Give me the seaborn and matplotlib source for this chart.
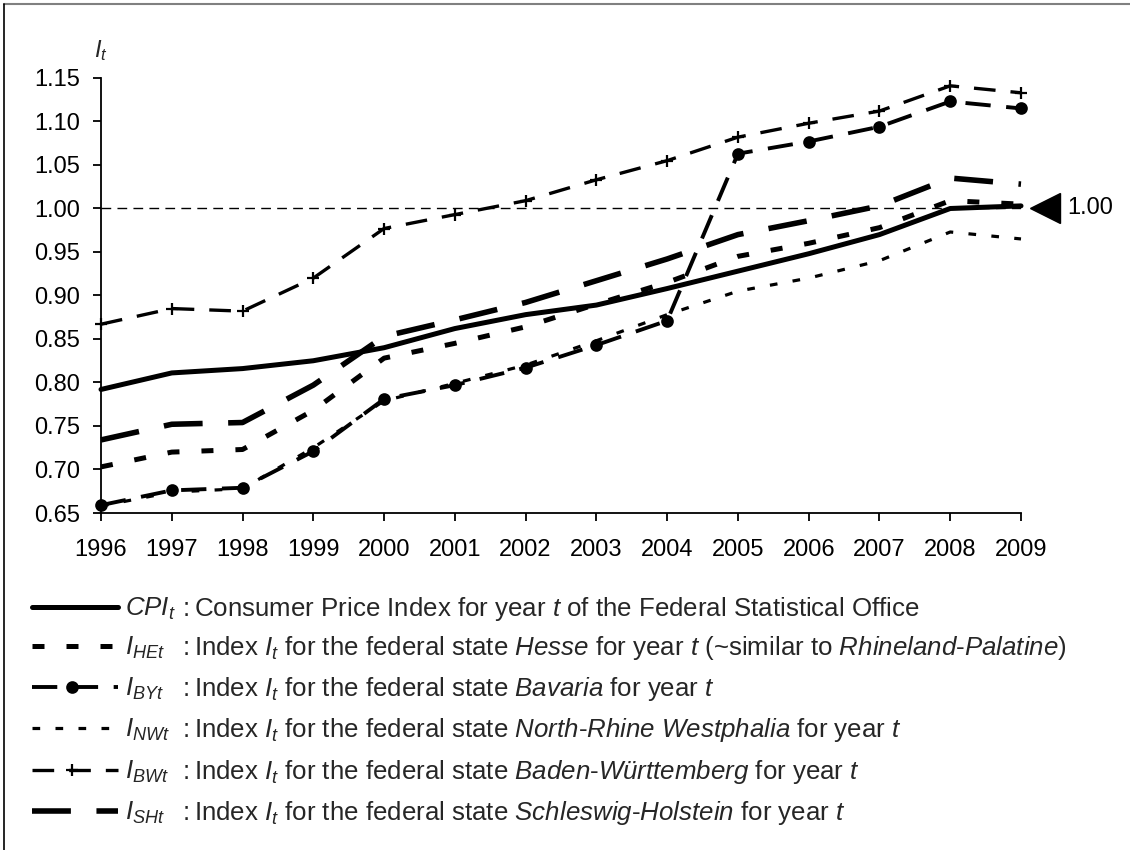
import matplotlib as mpl
import matplotlib.pyplot as plt
import seaborn as sns
import numpy as np
import pandas as pd
from matplotlib.lines import Line2D
from matplotlib.transforms import offset_copy

# Data
years = list(range(1996, 2010))
cpi = [0.792, 0.811, 0.816, 0.825, 0.840, 0.862, 0.878, 0.889, 0.908, 0.928, 0.948, 0.970, 1.000, 1.003]
hesse = [0.703, 0.720, 0.723, 0.768, 0.828, 0.845, 0.864, 0.890, 0.915, 0.945, 0.960, 0.978, 1.009, 1.005]
bavaria = [0.659, 0.676, 0.679, 0.721, 0.781, 0.797, 0.817, 0.843, 0.871, 1.063, 1.077, 1.094, 1.123, 1.115]
nrw = [0.658, 0.674, 0.678, 0.725, 0.779, 0.799, 0.820, 0.848, 0.878, 0.905, 0.920, 0.940, 0.973, 0.965]
bawue = [0.867, 0.885, 0.882, 0.920, 0.977, 0.993, 1.009, 1.033, 1.055, 1.082, 1.098, 1.112, 1.141, 1.133]
schleswig = [0.734, 0.752, 0.754, 0.797, 0.853, 0.872, 0.892, 0.917, 0.942, 0.970, 0.986, 1.003, 1.035, 1.028]
base = 1.00
yticks = [0.65, 0.70, 0.75, 0.80, 0.85, 0.90, 0.95, 1.00, 1.05, 1.10, 1.15]

series = ['CPI', 'HE', 'BY', 'NW', 'BW', 'SH']
values = [cpi, hesse, bavaria, nrw, bawue, schleswig]
short = [r'$\mathit{CPI}_t$', r'$I_{HEt}$', r'$I_{BYt}$', r'$I_{NWt}$', r'$I_{BWt}$', r'$I_{SHt}$']
descs = [
    r'Consumer Price Index for year $t$ of the Federal Statistical Office',
    r'Index $I_t$ for the federal state $\mathit{Hesse}$ for year $t$ (~similar to $\mathit{Rhineland}$-$\mathit{Palatine}$)',
    r'Index $I_t$ for the federal state $\mathit{Bavaria}$ for year $t$',
    r'Index $I_t$ for the federal state $\mathit{North}$-$\mathit{Rhine\ Westphalia}$ for year $t$',
    r'Index $I_t$ for the federal state $\mathit{Baden}$-$\mathit{Württemberg}$ for year $t$',
    r'Index $I_t$ for the federal state $\mathit{Schleswig}$-$\mathit{Holstein}$ for year $t$',
]

# line styles (lw, dash pattern, marker, marker size)
styles = {
    'CPI': dict(lw=3.6, ls='-', marker=None, ms=0),
    'HE': dict(lw=3.6, ls=(0, (2.4, 4.4)), marker=None, ms=0),
    'BY': dict(lw=2.8, ls=(0, (6.5, 4.0)), marker='o', ms=7.5),
    'NW': dict(lw=2.3, ls=(0, (2.4, 4.8)), marker=None, ms=0),
    'BW': dict(lw=2.4, ls=(0, (6.5, 4.5)), marker='+', ms=8),
    'SH': dict(lw=4.0, ls=(0, (7.0, 4.6)), marker=None, ms=0),
}

sns.set_theme(style='ticks')
plt.rcParams['font.family'] = ['Liberation Sans', 'DejaVu Sans']
plt.rcParams['mathtext.fontset'] = 'custom'
plt.rcParams['mathtext.rm'] = 'Liberation Sans'
plt.rcParams['mathtext.it'] = 'Liberation Sans:italic'
plt.rcParams['mathtext.bf'] = 'Liberation Sans:bold'

W, H = 1130, 850
TICK_FS = 17
LEG_FS = 18.6


def fx(px):
    return px / W


def fy(py):
    return 1 - py / H


fig = plt.figure(figsize=(W / 100, H / 100), dpi=100)
fig.patch.set_facecolor('white')
ax = fig.add_axes([fx(101), fy(513), (1021 - 101) / W, (513 - 78) / H])
ax.set_facecolor('white')

df = pd.DataFrame({'Year': years})
for name, vals in zip(series, values):
    df[name] = vals

for name in series:
    st = styles[name]
    sns.lineplot(x='Year', y=name, data=df, ax=ax, color='black',
                 lw=st['lw'], linestyle=st['ls'], marker=st['marker'],
                 ms=st['ms'], mew=1.6, mec='black', mfc='black',
                 clip_on=False, zorder=3)

ax.axhline(base, color='black', lw=1.0, ls=(0, (7, 4.5)), zorder=2)

# marker and label for the 1.00 level on the right
tri_tr = offset_copy(ax.transData, fig=fig, x=24, y=0, units='dots')
ax.plot([years[-1]], [base], marker='<', ms=21, color='black',
        transform=tri_tr, clip_on=False)
txt_tr = offset_copy(ax.transData, fig=fig, x=46, y=0, units='dots')
ax.text(years[-1], base, f'{base:.2f}', transform=txt_tr, ha='left',
        va='center', fontsize=TICK_FS, color='black')

ax.set_xlim(years[0], years[-1])
ax.set_ylim(yticks[0], yticks[-1])
ax.set_xticks(years)
ax.set_xticklabels([str(y) for y in years])
ax.set_yticks(yticks)
ax.set_yticklabels([f'{v:.2f}' for v in yticks])
ax.set_xlabel('')
ax.set_ylabel('')
ax.grid(False)
for s in ['top', 'right']:
    ax.spines[s].set_visible(False)
for s in ['left', 'bottom']:
    ax.spines[s].set_color('black')
    ax.spines[s].set_linewidth(1.3)
ax.tick_params(axis='both', direction='out', length=6, width=1.3,
               color='black', labelsize=TICK_FS, labelcolor='black')
ax.tick_params(axis='x', pad=13)
ax.tick_params(axis='y', pad=9)

fig.text(fx(94), fy(57), r'$I_t$', fontsize=TICK_FS, va='baseline', ha='left')

# hand-made legend
rows = [607, 646, 687, 728, 770, 811]
for name, lab, desc, ry in zip(series, short, descs, rows):
    st = styles[name]
    fig.add_artist(Line2D([fx(32), fx(118)], [fy(ry), fy(ry)], color='black',
                          lw=st['lw'], linestyle=st['ls']))
    if st['marker']:
        fig.add_artist(Line2D([fx(72)], [fy(ry)], color='black', lw=0,
                              marker=st['marker'], ms=st['ms'], mew=1.6))
    fig.text(fx(125), fy(ry + 9), lab, fontsize=LEG_FS, va='baseline', ha='left')
    fig.text(fx(183), fy(ry + 9), ':', fontsize=LEG_FS, va='baseline', ha='left')
    fig.text(fx(194), fy(ry + 9), desc, fontsize=LEG_FS, va='baseline', ha='left')

# outer frame
fig.add_artist(Line2D([fx(4), 1], [fy(4), fy(4)], color='#808080', lw=1.5))
fig.add_artist(Line2D([fx(4), fx(4)], [0, fy(4)], color='black', lw=1.2))

fig.savefig('out.png', dpi=100, facecolor='white')
